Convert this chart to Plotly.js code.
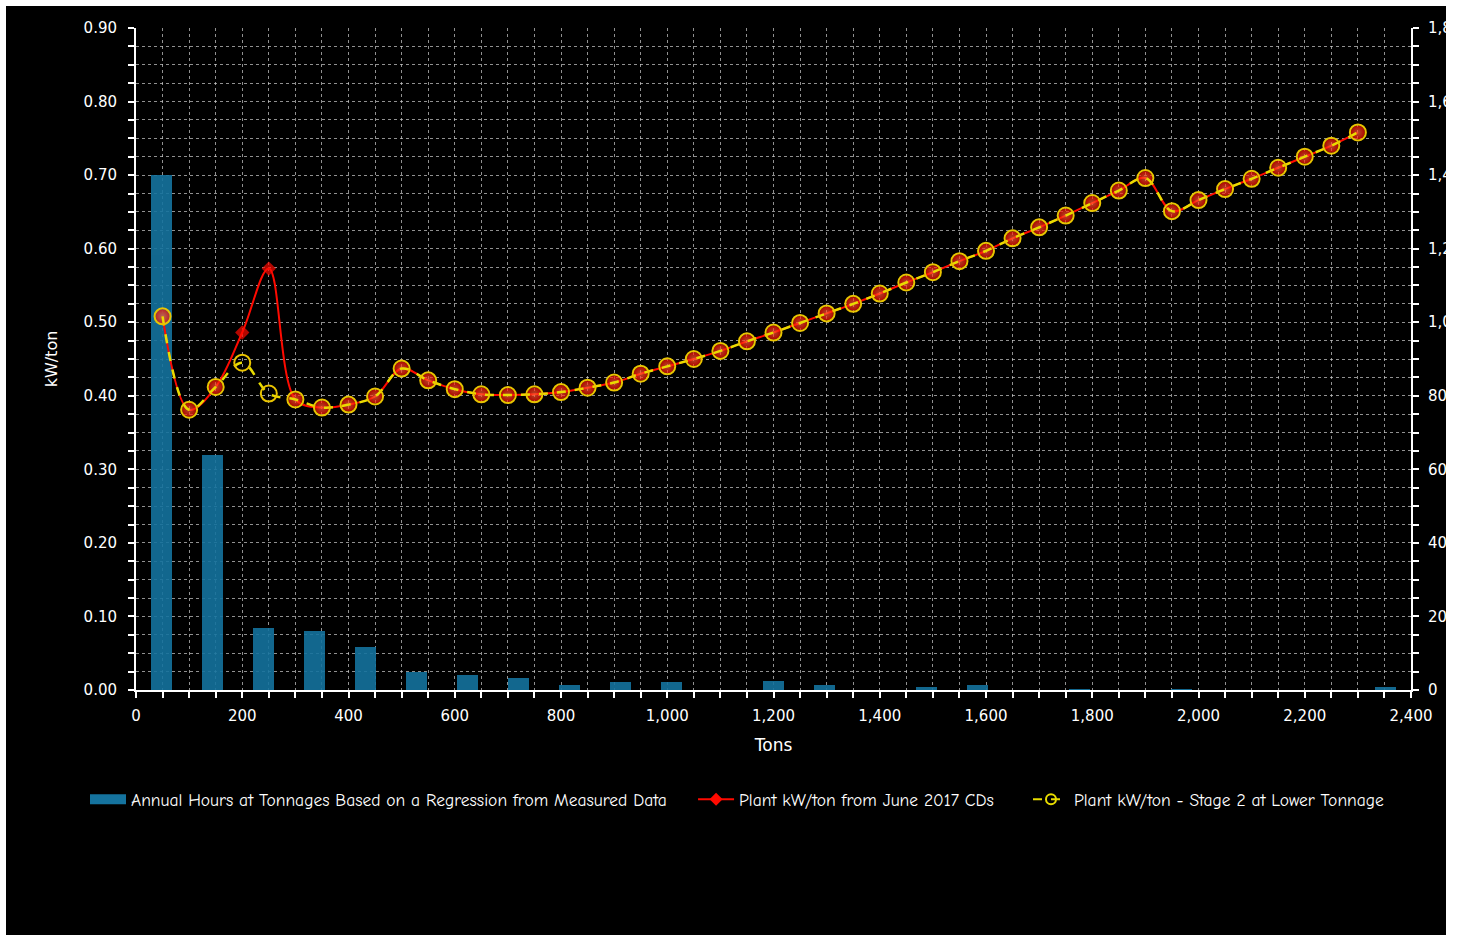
<!DOCTYPE html>
<html>
<head>
<meta charset="utf-8">
<script src="https://cdn.plot.ly/plotly-3.0.1.min.js"></script>
<style>
  html, body { margin: 0; padding: 0; background: #ffffff; }
  #chart { position: absolute; left: 6px; top: 6px; width: 1440px; height: 929px; overflow: hidden; background: #000; }
</style>
</head>
<body>
<div id="chart"></div>
<script>
// Tonnage points for the kW/ton curves
const tons = [50,100,150,200,250,300,350,400,450,500,550,600,650,700,750,800,850,900,950,1000,
  1050,1100,1150,1200,1250,1300,1350,1400,1450,1500,1550,1600,1650,1700,1750,1800,1850,1900,1950,2000,
  2050,2100,2150,2200,2250,2300];

// Plant kW/ton from June 2017 CDs
const kwJune2017 = [0.508,0.381,0.412,0.486,0.573,0.395,0.384,0.388,0.399,0.437,0.421,0.409,0.402,0.401,0.402,0.405,0.411,0.418,0.430,0.440,
  0.450,0.461,0.474,0.486,0.499,0.512,0.525,0.539,0.554,0.568,0.583,0.597,0.614,0.629,0.645,0.662,0.679,0.696,0.651,0.666,
  0.681,0.695,0.710,0.725,0.740,0.758];

// Plant kW/ton - Stage 2 at Lower Tonnage
const kwStage2 = [0.508,0.381,0.412,0.445,0.403,0.395,0.384,0.388,0.399,0.437,0.421,0.409,0.402,0.401,0.402,0.405,0.411,0.418,0.430,0.440,
  0.450,0.461,0.474,0.486,0.499,0.512,0.525,0.539,0.554,0.568,0.583,0.597,0.614,0.629,0.645,0.662,0.679,0.696,0.651,0.666,
  0.681,0.695,0.710,0.725,0.740,0.758];

// Annual hours histogram: bin centres (tons) and hours
const binCenters = [48,144,240,336,432,528,624,720,816,912,1008,1104,1200,1296,1392,1488,1584,1680,1776,1872,1968,2064,2160,2256,2352];
const annualHours = [1400,640,168,161,118,50,41,33,14,22,22,0,24,13,0,7,14,0,4,0,3,0,0,0,7];

const names = [
  'Annual Hours at Tonnages Based on a Regression from Measured Data',
  'Plant kW/ton from June 2017 CDs',
  'Plant kW/ton - Stage 2 at Lower Tonnage'
];

const RED = '#ff0a00';
const YEL = '#e8dc00';
const RING = '#eac400';
const BAR = '#15739e';

const differs = tons.map((t, i) => kwJune2017[i] !== kwStage2[i]);
const redSymbols = differs.map(d => (d ? 'diamond' : 'circle'));
const redSizes = differs.map(d => (d ? 11 : 14));
const redGradient = differs.map(d => (d ? 'none' : 'radial'));

const traces = [
  {
    type: 'bar', x: binCenters, y: annualHours, xaxis: 'x', yaxis: 'y', width: 38,
    marker: { color: BAR, line: { width: 0 } }, opacity: 0.9,
    name: names[0], showlegend: false
  },
  {
    type: 'scatter', mode: 'lines+markers', x: tons, y: kwJune2017, xaxis: 'x', yaxis: 'y2',
    line: { color: RED, width: 2, shape: 'spline', smoothing: 1 },
    marker: { symbol: redSymbols, size: redSizes, color: RED, line: { width: 0 },
              gradient: { type: redGradient, color: '#ff6a3a' } },
    name: names[1], showlegend: false
  },
  {
    type: 'scatter', mode: 'lines+markers', x: tons, y: kwStage2, xaxis: 'x', yaxis: 'y2',
    line: { color: YEL, width: 2.5, dash: 'dash', shape: 'spline', smoothing: 1 },
    marker: { symbol: 'circle-open', size: 16, color: RING, line: { width: 2, color: RING } },
    name: names[2], showlegend: false
  },
  // legend keys
  {
    type: 'scatter', mode: 'lines', x: [null], y: [null], yaxis: 'y2',
    line: { color: BAR, width: 10 },
    name: names[0], showlegend: true, legend: 'legend'
  },
  {
    type: 'scatter', mode: 'lines+markers', x: [null], y: [null], yaxis: 'y2',
    line: { color: RED, width: 2 },
    marker: { symbol: 'diamond', size: 10, color: RED },
    name: names[1], showlegend: true, legend: 'legend2'
  },
  {
    type: 'scatter', mode: 'lines+markers', x: [null], y: [null], yaxis: 'y2',
    line: { color: YEL, width: 2, dash: 'dash' },
    marker: { symbol: 'circle-open', size: 10, color: YEL, line: { width: 2, color: YEL } },
    name: names[2], showlegend: true, legend: 'legend3'
  }
];

const gridStyle = { gridcolor: 'rgba(205,205,205,0.7)', griddash: 'dot', gridwidth: 1 };
const tickFont = { family: 'DejaVu Sans, Verdana, sans-serif', size: 15, color: '#ffffff' };
const legendFont = { family: '"Comic Sans MS", "Comic Neue", "DejaVu Sans Condensed", sans-serif', size: 17.5, color: '#ffffff' };
const legendBase = { orientation: 'h', xanchor: 'left', y: -0.138, yanchor: 'top', font: legendFont, bgcolor: 'rgba(0,0,0,0)', itemwidth: 36 };

const layout = {
  width: 1440, height: 929,
  paper_bgcolor: '#000000', plot_bgcolor: '#000000',
  margin: { l: 130, r: 35, t: 22, b: 245 },
  showlegend: true,
  legend: Object.assign({}, legendBase, { x: -0.040 }),
  legend2: Object.assign({}, legendBase, { x: 0.4369 }),
  legend3: Object.assign({}, legendBase, { x: 0.6996 }),
  bargap: 0,
  xaxis: {
    range: [0, 2400], dtick: 200, tick0: 0, tickformat: ',d',
    showline: true, linecolor: '#ffffff', linewidth: 2,
    ticks: 'outside', ticklen: 6, tickcolor: '#ffffff', tickwidth: 2, ticklabelstandoff: 5,
    showgrid: true, ...gridStyle, zeroline: false,
    minor: { dtick: 50, showgrid: true, ...gridStyle, ticks: 'outside', ticklen: 6, tickcolor: '#ffffff', tickwidth: 2 },
    tickfont: tickFont,
    title: { text: 'Tons', font: { family: 'DejaVu Sans, Verdana, sans-serif', size: 17, color: '#ffffff' }, standoff: 15 }
  },
  yaxis: {
    range: [0, 1800], dtick: 200, tick0: 0, tickformat: ',d',
    side: 'right',
    showline: true, linecolor: '#ffffff', linewidth: 2,
    ticks: 'outside', ticklen: 6, tickcolor: '#ffffff', tickwidth: 2, ticklabelstandoff: 6,
    showgrid: true, ...gridStyle, zeroline: false,
    minor: { dtick: 50, showgrid: true, ...gridStyle, ticks: 'outside', ticklen: 6, tickcolor: '#ffffff', tickwidth: 2 },
    tickfont: tickFont
  },
  yaxis2: {
    range: [0, 0.9], dtick: 0.1, tick0: 0, tickformat: '.2f',
    overlaying: 'y', side: 'left',
    showline: true, linecolor: '#ffffff', linewidth: 2,
    ticks: 'outside', ticklen: 6, tickcolor: '#ffffff', tickwidth: 2, ticklabelstandoff: 8,
    showgrid: false, zeroline: false,
    minor: { dtick: 0.025, showgrid: false, ticks: 'outside', ticklen: 6, tickcolor: '#ffffff', tickwidth: 2 },
    tickfont: tickFont,
    title: { text: 'kW/ton', font: { family: 'DejaVu Sans, Verdana, sans-serif', size: 16, color: '#ffffff' }, standoff: 22 }
  }
};

Plotly.newPlot('chart', traces, layout, { displayModeBar: false, staticPlot: true });
</script>
</body>
</html>
